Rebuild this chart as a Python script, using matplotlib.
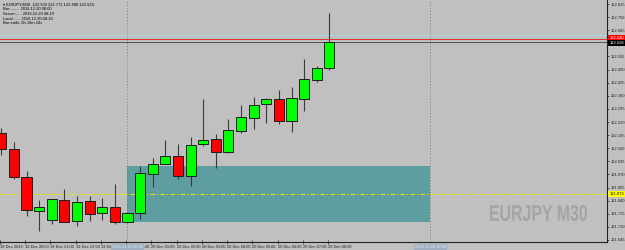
import numpy as np
import matplotlib
matplotlib.use("Agg")
import matplotlib.pyplot as plt
from matplotlib.patches import Rectangle, PathPatch
from matplotlib.textpath import TextPath
from matplotlib.font_manager import FontProperties
from matplotlib.transforms import Affine2D, IdentityTransform, blended_transform_factory

# EURJPY M30 bars, 19 Dec 19:00 .. 20 Dec 08:00
opens = [122.175, 122.096, 121.957, 121.789, 121.744, 121.843, 121.739, 121.838, 121.779,
         121.809, 121.734, 121.779, 121.972, 122.022, 122.061, 121.962, 122.121, 122.146,
         122.081, 122.185, 122.250, 122.319, 122.344, 122.235, 122.344, 122.438, 122.500]
highs = [122.200, 122.131, 121.987, 121.843, 121.850, 121.898, 121.863, 121.863, 121.853,
         121.923, 121.784, 122.012, 122.052, 122.141, 122.121, 122.156, 122.344, 122.171,
         122.245, 122.314, 122.354, 122.349, 122.389, 122.404, 122.542, 122.508, 122.771]
lows = [122.066, 121.947, 121.764, 121.690, 121.724, 121.733, 121.714, 121.739, 121.744,
        121.724, 121.729, 121.749, 121.908, 122.020, 121.947, 121.913, 122.111, 122.002,
        122.076, 122.176, 122.195, 122.225, 122.220, 122.180, 122.285, 122.428, 122.490]
closes = [122.096, 121.957, 121.794, 121.809, 121.848, 121.734, 121.833, 121.774, 121.809,
          121.734, 121.779, 121.977, 122.022, 122.061, 121.962, 122.116, 122.141, 122.081,
          122.190, 122.255, 122.314, 122.344, 122.235, 122.349, 122.443, 122.498, 122.626]

time_labels = ["19 Dec 2016", "19 Dec 20:00", "19 Dec 21:00", "19 Dec 22:00", "19 Dec 23:00",
               "20 Dec 00:00", "20 Dec 01:00", "20 Dec 02:00", "20 Dec 03:00", "20 Dec 04:00",
               "20 Dec 05:00", "20 Dec 06:00", "20 Dec 07:00", "20 Dec 08:00"]
price_ticks = [122.815, 122.750, 122.685, 122.620, 122.555, 122.490, 122.425, 122.360,
               122.295, 122.230, 122.165, 122.100, 122.035, 121.970, 121.905, 121.840,
               121.775, 121.710, 121.645]

# objects on the chart
zone_bars = (10, 34)            # 20 Dec 00:00 -> 20 Dec 12:00
zone_prices = (121.734, 122.012)
vline_labels = ["2016.12.20 00:00", "2016.12.20 12:00"]
level_yellow = 121.873
level_cyan = 122.661
ask = 122.640
bid = 122.628

info_lines = ["\u25be EURJPY,M30  122.500 122.771 122.490 122.626",
              "Bar:........ 2016.12.20 08:00",
              "Server:..... 2016.12.20 08:19",
              "Local:...... 2016.12.20 08:19",
              "Bar ends: 0h 10m 18s"]

BG = "#c0c0c0"
FS = 2.9
FAM = "Liberation Sans"
fig = plt.figure(figsize=(6.25, 2.5), dpi=100, facecolor=BG)
ax = fig.add_axes([0, 8 / 250, 607 / 625, 242 / 250])
ax.set_facecolor(BG)

n = len(opens)
x = np.arange(n)
o = np.array(opens); c = np.array(closes)
h = np.array(highs); l = np.array(lows)
up = c >= o

# zone rectangle
ax.add_patch(Rectangle((zone_bars[0], zone_prices[0]), zone_bars[1] - zone_bars[0],
                       zone_prices[1] - zone_prices[0], facecolor="#5f9ea0",
                       edgecolor="none", zorder=1))

# vertical dotted lines
for b in zone_bars:
    ax.axvline(b, color="#808080", linestyle=(0, (1, 2)), lw=0.7, zorder=2)

# horizontal levels
ax.axhline(level_yellow, color="#e6e600", linestyle=(0, (4, 2, 1, 2)), lw=0.8, zorder=2)
ax.axhline(level_cyan, color="#a8d8d8", lw=0.7, zorder=2)
ax.axhline(ask, color="#e03030", lw=0.7, zorder=2)
ax.axhline(bid, color="#505050", lw=0.7, zorder=2)

# candles
ax.vlines(x, l, h, color="#3a3a3a", lw=0.8, zorder=3)
ax.bar(x, np.abs(c - o), bottom=np.minimum(o, c), width=0.8,
       color=np.where(up, "#00ff00", "#ff0000"), edgecolor="#1e1e1e", lw=0.7, zorder=4)

ax.set_xlim(-0.1, 48.0)
ax.set_ylim(121.635, 122.835)

# axes frame
for s in ["top", "left"]:
    ax.spines[s].set_visible(False)
for s in ["right", "bottom"]:
    ax.spines[s].set_color("#202020")
    ax.spines[s].set_linewidth(0.8)

ax.yaxis.tick_right()
ax.set_yticks(price_ticks)
ax.set_yticklabels([f"{p:.3f}" for p in price_ticks], fontsize=FS, family=FAM)
ax.tick_params(axis="y", length=1.5, width=0.5, pad=1, colors="#202020")

ax.set_xticks(np.arange(0, 2 * len(time_labels), 2) - 0.1)
ax.set_xticklabels(time_labels, fontsize=FS, family=FAM, ha="left")
ax.tick_params(axis="x", length=3, width=0.5, pad=1, colors="#202020", direction="inout")

# boxes on the time axis for the vertical lines
tx = blended_transform_factory(ax.transData, ax.transAxes)
for b, lab in zip(zone_bars, vline_labels):
    ax.text(b, -0.012, lab, transform=tx, ha="center", va="top", fontsize=FS, family=FAM,
            color="#e8ecf2", zorder=6, clip_on=False,
            bbox=dict(boxstyle="square,pad=0.3", fc="#9fb0c4", ec="none"))

# price labels on the right axis
ty = blended_transform_factory(ax.transAxes, ax.transData)
for val, fc, tc, dy in [(ask, "#ff0000", "white", 0.006), (bid, "black", "white", -0.006),
                        (level_yellow, "#ffff00", "black", 0.0)]:
    ax.text(1.004, val + dy, f"{val:.3f}", transform=ty, ha="left", va="center",
            fontsize=FS, family=FAM, color=tc, clip_on=False, zorder=6,
            bbox=dict(boxstyle="square,pad=0.25", fc=fc, ec="none"))

# info text, top left
for i, line in enumerate(info_lines):
    fig.text(3 / 625, 1 - (5 + i * 4.5) / 250, line, fontsize=FS, color="black",
             va="center", ha="left", family=[FAM, "DejaVu Sans"])

# watermark, condensed bold
tp = TextPath((0, 0), "EURJPY M30", size=10,
              prop=FontProperties(family="Liberation Sans", weight="bold"))
bb = tp.get_extents()
sx = 97 / bb.width
sy = 16 / bb.height
tr = Affine2D().translate(-bb.x0, -bb.y0).scale(sx, sy).translate(490, 250 - 221)
fig.patches.append(PathPatch(tr.transform_path(tp), facecolor="#a4a4a4", edgecolor="none",
                             transform=IdentityTransform(), figure=fig))

fig.savefig("out.png", dpi=100, facecolor=BG)
